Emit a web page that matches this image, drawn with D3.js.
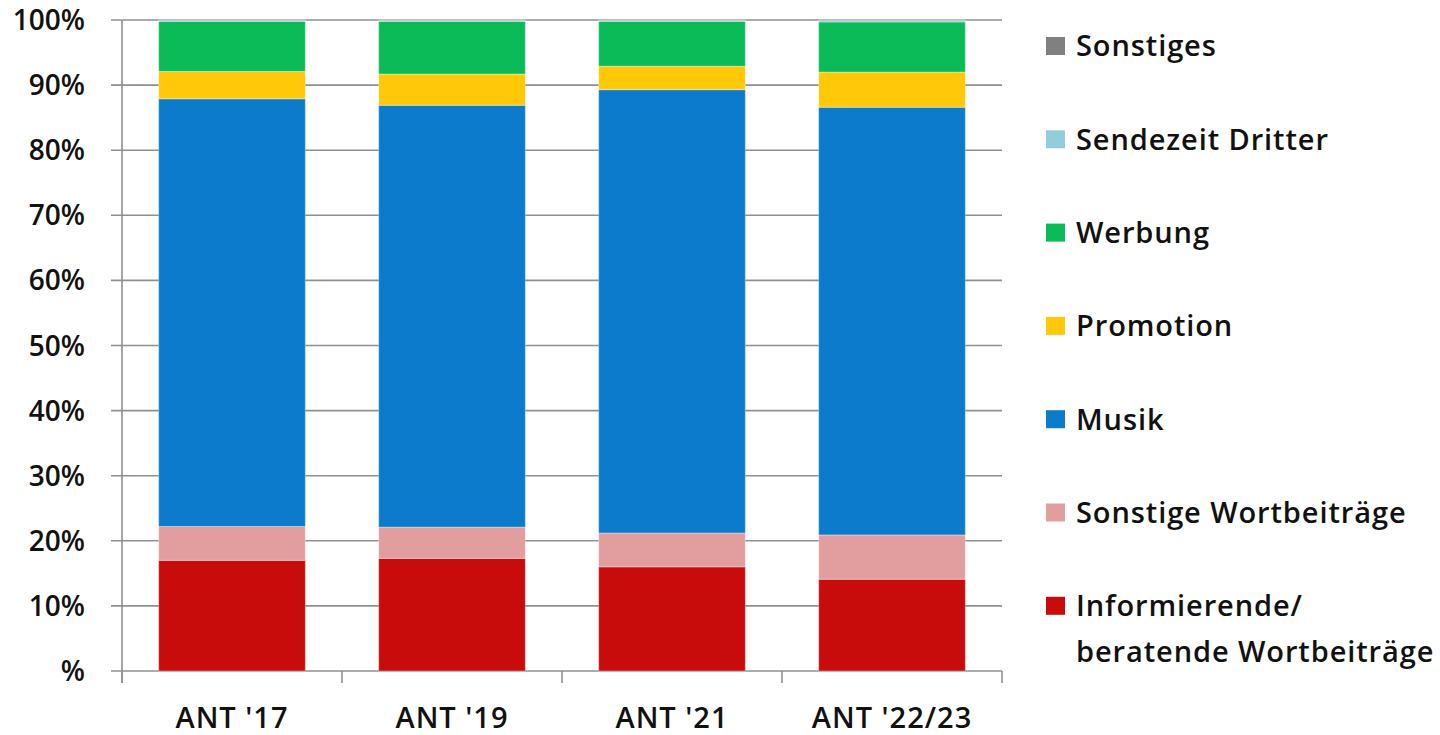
<!DOCTYPE html>
<html><head><meta charset="utf-8">
<script src="https://cdn.jsdelivr.net/npm/d3@7"></script>
<style>html,body{margin:0;padding:0;background:#fff;}svg{display:block;}</style>
</head><body>
<svg id="c" width="1440" height="735"></svg>
<script>
const categories = ["ANT '17", "ANT '19", "ANT '21", "ANT '22/23"];
const seriesNames = ["Informierende/ beratende Wortbeiträge", "Sonstige Wortbeiträge", "Musik", "Promotion", "Werbung", "Sendezeit Dritter", "Sonstiges"];
const informierende = [17.0, 17.3, 16.0, 14.1];
const sonstigeWort = [5.2, 4.8, 5.2, 6.8];
const musik = [65.7, 64.8, 68.1, 65.7];
const promotion = [4.2, 4.8, 3.6, 5.4];
const werbung = [7.7, 8.1, 6.9, 7.7];
const sendezeit = [0.15, 0.15, 0.15, 0.25];
const sonstiges = [0.05, 0.05, 0.05, 0.05];
const colors = ["#C80C0C", "#E29E9E", "#0C7BCB", "#FFC90A", "#0BBB58", "#92CDDC", "#808080"];
const yTicks = [0, 10, 20, 30, 40, 50, 60, 70, 80, 90, 100];
const legendLabels = [["Sonstiges"], ["Sendezeit Dritter"], ["Werbung"], ["Promotion"], ["Musik"], ["Sonstige Wortbeiträge"], ["Informierende/", "beratende Wortbeiträge"]];
const legendColors = ["#808080", "#92CDDC", "#0BBB58", "#FFC90A", "#0C7BCB", "#E29E9E", "#C80C0C"];

(function () {
const seriesData = [informierende, sonstigeWort, musik, promotion, werbung, sendezeit, sonstiges];
const rows = categories.map((c, i) => {
  const r = {cat: c};
  seriesNames.forEach((s, j) => r[s] = seriesData[j][i]);
  return r;
});

const svg = d3.select("#c");
const font = "'Open Sans', sans-serif";
const pLeft = 122, pRight = 1002, pTop = 20, pBottom = 671;
const x = d3.scaleBand().domain(categories).range([pLeft, pRight]).paddingInner(1/3).paddingOuter(1/6);
const y = d3.scaleLinear().domain([0, 100]).range([pBottom, pTop]);

svg.append("g").selectAll("line").data(yTicks).join("line")
  .attr("x1", pLeft - 11).attr("x2", pRight).attr("y1", d => y(d)).attr("y2", d => y(d))
  .attr("stroke", "#8f8f8f").attr("stroke-width", 1.6);

svg.append("line").attr("x1", pLeft).attr("x2", pLeft).attr("y1", pTop).attr("y2", pBottom + 12)
  .attr("stroke", "#8f8f8f").attr("stroke-width", 1.6);
const bounds = categories.map(c => x(c) - x.step() * x.paddingOuter()).concat([pRight]);
svg.append("g").selectAll("line").data(bounds).join("line")
  .attr("x1", d => d).attr("x2", d => d).attr("y1", pBottom).attr("y2", pBottom + 12)
  .attr("stroke", "#8f8f8f").attr("stroke-width", 1.6);

svg.append("g").selectAll("text").data(yTicks).join("text")
  .attr("x", 85).attr("y", d => y(d)).attr("dy", "0.36em").attr("text-anchor", "end")
  .attr("font-family", font).attr("font-weight", 600).attr("font-size", 28).attr("fill", "#111")
  .text(d => d === 0 ? "%" : d + "%");

const stack = d3.stack().keys(seriesNames)(rows);
svg.append("g").selectAll("g").data(stack).join("g")
  .attr("fill", (d, i) => colors[i])
  .selectAll("rect").data(d => d).join("rect")
  .attr("x", d => x(d.data.cat)).attr("width", x.bandwidth())
  .attr("y", d => y(d[1])).attr("height", d => y(d[0]) - y(d[1]))
  .attr("stroke", "rgba(255,255,255,0.35)").attr("stroke-width", 1);

svg.append("g").selectAll("text").data(categories).join("text")
  .attr("x", d => x(d) + x.bandwidth() / 2).attr("y", 728).attr("text-anchor", "middle")
  .attr("font-family", font).attr("font-weight", 600).attr("font-size", 29).attr("letter-spacing", 1).attr("fill", "#111")
  .text(d => d);

const lg = svg.append("g");
legendLabels.forEach((lines, i) => {
  const cy = 46 + i * 93.3;
  lg.append("rect").attr("x", 1046).attr("y", cy - 9).attr("width", 19).attr("height", 18).attr("fill", legendColors[i]);
  lines.forEach((t, k) => {
    lg.append("text").attr("x", 1076).attr("y", cy + k * 46).attr("dy", "0.36em")
      .attr("font-family", font).attr("font-weight", 600).attr("font-size", 29).attr("letter-spacing", 0.9).attr("fill", "#111").text(t);
  });
});
})();
</script>
</body></html>
